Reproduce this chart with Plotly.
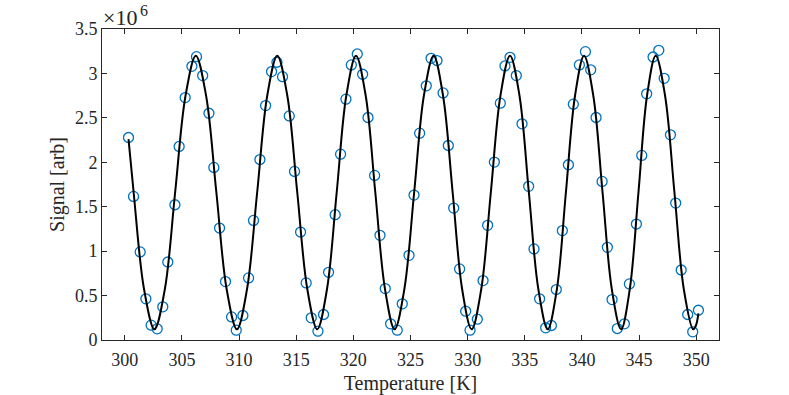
import plotly.graph_objects as go

# measured points (signal in units of 1e6)
temperature = [
    300.32, 300.76, 301.34, 301.84, 302.30, 302.83, 303.32, 303.76, 304.38, 304.75,
    305.28, 305.87, 306.27, 306.81, 307.36, 307.79, 308.29, 308.81, 309.34, 309.75,
    310.33, 310.83, 311.26, 311.82, 312.32, 312.84, 313.31, 313.80, 314.39, 314.85,
    315.38, 315.87, 316.31, 316.90, 317.39, 317.83, 318.41, 318.88, 319.35, 319.82,
    320.34, 320.81, 321.28, 321.86, 322.33, 322.79, 323.26, 323.84, 324.28, 324.87,
    325.31, 325.80, 326.38, 326.80, 327.32, 327.85, 328.31, 328.78, 329.30, 329.83,
    330.21, 330.85, 331.35, 331.75, 332.34, 332.86, 333.27, 333.71, 334.26, 334.76,
    335.34, 335.81, 336.30, 336.83, 337.33, 337.76, 338.29, 338.82, 339.25, 339.78,
    340.31, 340.77, 341.24, 341.77, 342.23, 342.64, 343.10, 343.72, 344.16, 344.77,
    345.24, 345.67, 346.23, 346.73, 347.20, 347.75, 348.21, 348.69, 349.26, 349.70,
    350.20,
]
signal = [
    2.279, 1.616, 0.991, 0.463, 0.167, 0.126, 0.373, 0.878, 1.522, 2.178,
    2.728, 3.080, 3.189, 2.976, 2.552, 1.942, 1.260, 0.657, 0.260, 0.111,
    0.276, 0.699, 1.346, 2.031, 2.638, 3.021, 3.126, 2.964, 2.522, 1.897,
    1.215, 0.642, 0.249, 0.099, 0.287, 0.762, 1.410, 2.091, 2.710, 3.096,
    3.219, 2.991, 2.504, 1.852, 1.178, 0.579, 0.182, 0.111, 0.407, 0.953,
    1.631, 2.328, 2.860, 3.170, 3.145, 2.781, 2.189, 1.485, 0.800, 0.324,
    0.111, 0.234, 0.669, 1.290, 2.002, 2.665, 3.084, 3.181, 2.976, 2.433,
    1.729, 1.025, 0.463, 0.137, 0.163, 0.568, 1.231, 1.972, 2.654, 3.096,
    3.245, 3.040, 2.504, 1.785, 1.043, 0.455, 0.129, 0.182, 0.631, 1.305,
    2.077, 2.770, 3.185, 3.260, 2.945, 2.309, 1.541, 0.788, 0.287, 0.092,
    0.335,
]

# fitted curve at peaks, troughs and in between
fit_t = [
    300.32, 300.77, 301.68, 302.59,
    303.50, 304.40, 305.31, 306.21,
    307.11, 308.01, 308.91, 309.81,
    310.69, 311.58, 312.46, 313.34,
    314.22, 315.09, 315.97, 316.84,
    317.69, 318.54, 319.38, 320.23,
    321.08, 321.92, 322.77, 323.61,
    324.46, 325.32, 326.17, 327.02,
    327.85, 328.69, 329.52, 330.35,
    331.19, 332.03, 332.87, 333.71,
    334.54, 335.36, 336.19, 337.01,
    337.81, 338.60, 339.40, 340.19,
    341.00, 341.81, 342.62, 343.43,
    344.19, 344.95, 345.70, 346.46,
    347.28, 348.10, 348.92, 349.74,
    349.97, 350.20,
]
fit_s = [
    2.26, 1.66, 0.571, 0.12,
    0.571, 1.66, 2.749, 3.20,
    2.749, 1.66, 0.571, 0.12,
    0.571, 1.66, 2.749, 3.20,
    2.749, 1.66, 0.571, 0.12,
    0.571, 1.66, 2.749, 3.20,
    2.749, 1.66, 0.571, 0.12,
    0.571, 1.66, 2.749, 3.20,
    2.749, 1.66, 0.571, 0.12,
    0.571, 1.66, 2.749, 3.20,
    2.749, 1.66, 0.571, 0.12,
    0.571, 1.66, 2.749, 3.20,
    2.749, 1.66, 0.571, 0.12,
    0.571, 1.66, 2.749, 3.20,
    2.749, 1.66, 0.571, 0.12,
    0.16, 0.30,
]

x_ticks = [300, 305, 310, 315, 320, 325, 330, 335, 340, 345, 350]
y_ticks = [0, 0.5, 1, 1.5, 2, 2.5, 3, 3.5]
y_labels = ['0', '0.5', '1', '1.5', '2', '2.5', '3', '3.5']

serif = 'Liberation Serif, Times New Roman, serif'
axis_col = '#262626'

fig = go.Figure()
fig.add_trace(go.Scatter(x=temperature, y=signal, mode='markers',
                         marker=dict(symbol='circle-open', size=10, color='#0072BD',
                                     line=dict(width=1.3, color='#0072BD')),
                         name='data'))
fig.add_trace(go.Scatter(x=fit_t, y=fit_s, mode='lines',
                         line=dict(color='black', width=2, shape='spline', smoothing=1),
                         name='fit'))

axis_common = dict(showline=True, linecolor=axis_col, linewidth=1, mirror='ticks',
                   ticks='inside', ticklen=5, tickcolor=axis_col, tickwidth=1,
                   showgrid=False, zeroline=False,
                   tickfont=dict(family=serif, size=18, color=axis_col))

fig.update_layout(
    width=789, height=395,
    margin=dict(l=102, r=70, t=29, b=55),
    paper_bgcolor='white', plot_bgcolor='white',
    showlegend=False,
    xaxis=dict(range=[298, 352], tickvals=x_ticks, ticklabelstandoff=3, automargin=False,
               title=dict(text='Temperature [K]', font=dict(family=serif, size=20, color=axis_col)),
               **axis_common),
    yaxis=dict(range=[0, 3.5], tickvals=y_ticks, ticktext=y_labels,
               title=dict(text='Signal [arb]', font=dict(family=serif, size=20, color=axis_col),
                          standoff=4),
               **axis_common),
    annotations=[
        dict(text='\u00d710', xref='paper', yref='paper', x=0, y=1, xshift=-1, yshift=-3,
             xanchor='left', yanchor='bottom', showarrow=False,
             font=dict(family=serif, size=22, color=axis_col)),
        dict(text='6', xref='paper', yref='paper', x=0, y=1, xshift=36, yshift=8,
             xanchor='left', yanchor='bottom', showarrow=False,
             font=dict(family=serif, size=16, color=axis_col)),
    ],
)

# drop the default body margin so the figure sits at the page corner
fig.write_html("out.html", config={'displayModeBar': False},
               post_script="document.body.style.margin='0';")
